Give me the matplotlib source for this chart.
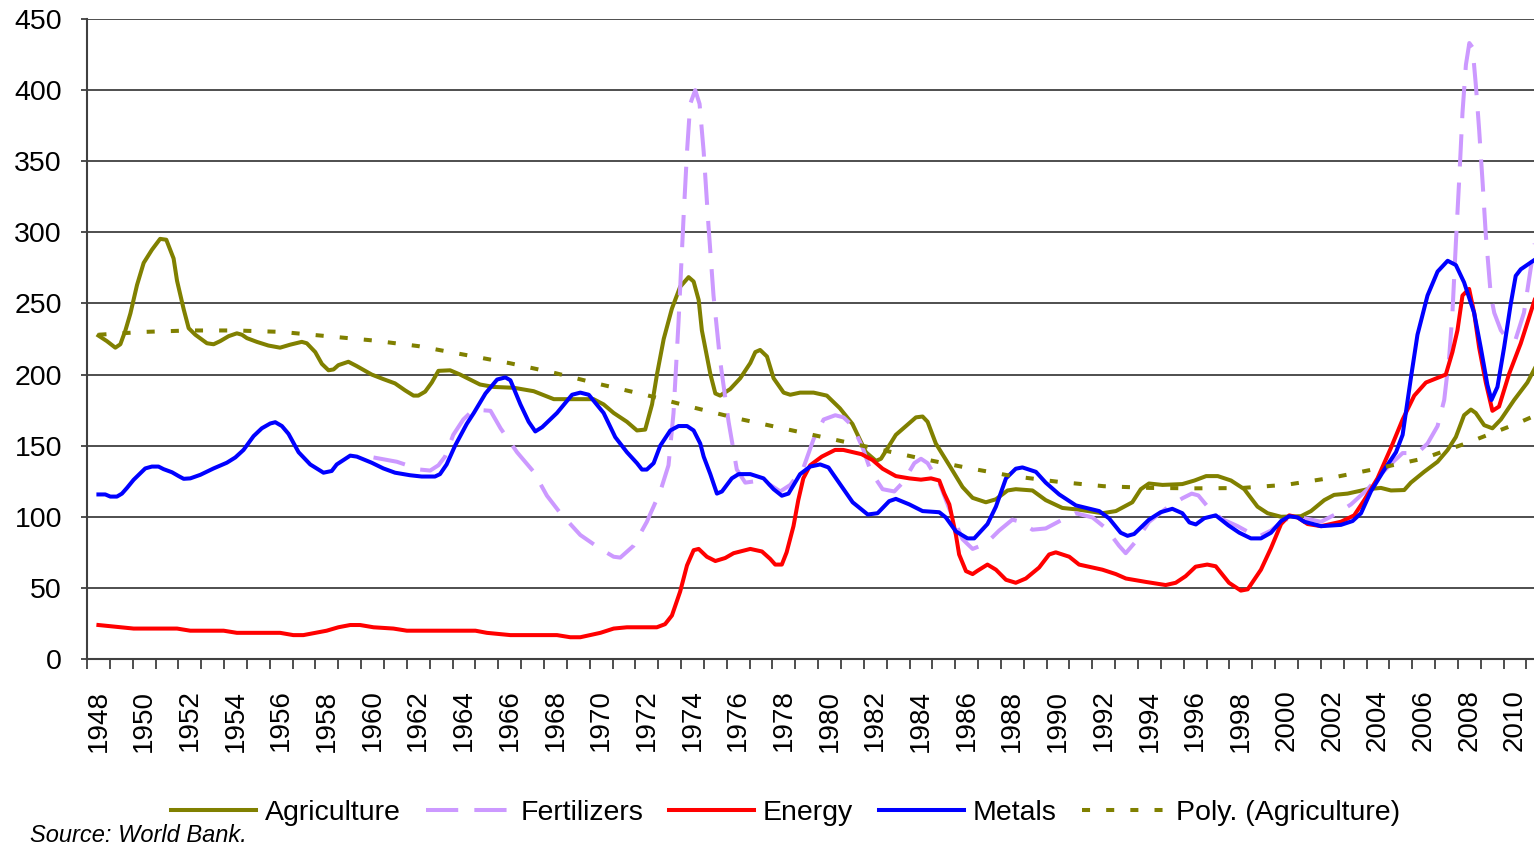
import matplotlib
matplotlib.use("Agg")
import matplotlib.pyplot as plt
from matplotlib.ticker import MultipleLocator, FixedLocator

plt.rcParams['font.family'] = ['Liberation Sans', 'DejaVu Sans']

# Agriculture index (year, value)
agri_t = [1948.0, 1948.37, 1948.74, 1948.96, 1949.18, 1949.4, 1949.69, 1949.98, 1950.34, 1950.7,
          1950.97, 1951.29, 1951.44, 1951.73, 1951.95, 1952.24, 1952.75, 1953.04, 1953.33, 1953.7,
          1954.06, 1954.28, 1954.5, 1954.93, 1955.44, 1955.95, 1956.39, 1956.9, 1957.12, 1957.49,
          1957.78, 1958.07, 1958.29, 1958.5, 1958.94, 1959.3, 1959.96, 1960.47, 1960.98, 1961.42,
          1961.79, 1962.0, 1962.3, 1962.59, 1962.88, 1963.39, 1963.83, 1964.26, 1964.7, 1965.3,
          1966.18, 1967.05, 1967.93, 1968.65, 1969.67, 1970.11, 1970.55, 1971.13, 1971.57, 1971.93,
          1972.23, 1972.45, 1972.74, 1973.1, 1973.46, 1973.83, 1974.05, 1974.27, 1974.41, 1974.63,
          1974.78, 1975.0, 1975.21, 1975.65, 1976.09, 1976.53, 1976.75, 1976.96, 1977.26, 1977.55,
          1977.99, 1978.28, 1978.71, 1979.3, 1979.88, 1980.45, 1981.0, 1981.59, 1982.03, 1982.25,
          1982.9, 1983.78, 1984.07, 1984.29, 1984.65, 1985.24, 1985.82, 1986.26, 1986.84, 1987.28,
          1987.79, 1988.15, 1988.88, 1989.46, 1990.19, 1990.92, 1991.94, 1992.53, 1993.25, 1993.62,
          1993.98, 1994.57, 1995.44, 1995.97, 1996.48, 1996.99, 1997.57, 1998.15, 1998.73, 1999.17,
          1999.76, 2000.63, 2001.07, 2001.65, 2002.08, 2002.67, 2003.55, 2004.13, 2004.57, 2005.15,
          2005.44, 2006.02, 2006.61, 2007.05, 2007.41, 2007.77, 2008.07, 2008.28, 2008.65, 2009.01,
          2009.38, 2009.96, 2010.54, 2010.86]
agri_v = [227.4, 223.5, 218.9, 221.3, 231, 243, 263, 278.5, 287.7, 295.4,
          294.8, 281.6, 266, 246, 232.6, 228, 222, 221.3, 223.5, 227,
          229, 228, 225.6, 223, 220.4, 218.9, 221, 223, 222, 215.8,
          207.5, 203, 203.6, 206.6, 209, 206, 200, 196.8, 193.8, 188.9,
          185.2, 185.2, 188, 194.4, 202.6, 203, 200, 196.5, 193, 191.3,
          190.7, 188.3, 182.7, 182.7, 182.7, 179, 173, 166.8, 160.7, 161.3,
          179, 200.5, 225, 246.4, 261.7, 268.5, 265.4, 252.5, 231.1, 212.7,
          200.5, 186.7, 185.2, 189.8, 197.4, 208.1, 215.8, 217.3, 212.7, 197.4,
          187.3, 185.8, 187.3, 187.3, 185.2, 176.3, 165.3, 145.4, 139.3, 140.8,
          157.6, 169.9, 170.5, 166.8, 151.5, 136.2, 120.9, 113.3, 110.2, 112.3,
          118.5, 119.4, 118.5, 111.7, 106.2, 105, 102.5, 104, 110.2, 119.4,
          123.4, 122.4, 123, 125.5, 128.6, 128.6, 125.5, 119.4, 107.1, 102.5,
          100, 100.4, 104, 111.7, 115.4, 116.3, 119.4, 120.3, 118.5, 118.8,
          124, 131.6, 138.7, 147, 156.1, 171.4, 175.4, 173, 164.4, 162.2,
          168.4, 182.1, 194.4, 204.2]

# Fertilizers index
fert_t = [1960.04, 1961.06, 1962.08, 1962.52, 1962.88, 1963.17, 1963.53, 1963.97, 1964.42, 1965.16,
          1965.6, 1966.32, 1967.05, 1967.63, 1968.22, 1969.09, 1969.97, 1970.55, 1970.84, 1971.42,
          1972.0, 1972.59, 1972.95, 1973.17, 1973.39, 1973.61, 1973.76, 1973.9, 1974.12, 1974.31,
          1974.49, 1974.7, 1974.92, 1975.21, 1975.58, 1975.94, 1976.31, 1976.96, 1977.4, 1977.84,
          1978.28, 1978.86, 1979.3, 1979.74, 1980.25, 1980.61, 1981.01, 1981.45, 1981.81, 1982.32,
          1982.83, 1983.2, 1983.71, 1984.0, 1984.29, 1984.8, 1985.24, 1985.82, 1986.26, 1986.84,
          1987.42, 1988.0, 1988.37, 1988.88, 1989.46, 1990.19, 1990.78, 1991.51, 1992.1, 1992.67,
          1992.96, 1993.4, 1993.98, 1994.71, 1995.44, 1995.85, 1996.14, 1996.58, 1997.16, 1997.86,
          1998.73, 1999.32, 1999.9, 2000.63, 2001.51, 2002.23, 2002.82, 2003.55, 2004.13, 2004.71,
          2005.08, 2005.73, 2006.17, 2006.61, 2006.9, 2007.12, 2007.26, 2007.41, 2007.56, 2007.7,
          2007.85, 2008.0, 2008.14, 2008.29, 2008.43, 2008.58, 2008.72, 2008.94, 2009.09, 2009.38,
          2009.74, 2010.03, 2010.39, 2010.68, 2010.86]
fert_v = [141.7, 138.7, 133.2, 132.5, 136.2, 142.3, 157.6, 168.4, 175.4, 174.5,
          162.2, 145.4, 131.6, 114.8, 102.5, 87.2, 77.4, 71.9, 71.3, 79.6,
          96.4, 117.8, 136.2, 173, 237.2, 310.7, 356.6, 390.3, 400, 390.3,
          356.6, 304.6, 255.6, 209.7, 166.8, 133.2, 124, 125.5, 122.4, 117.8,
          122.4, 134.7, 154.6, 168.4, 171.4, 169.9, 163.8, 148.5, 131.6, 119.4,
          117.8, 124, 137.7, 140.8, 137.7, 124, 105.6, 84.2, 77.4, 81.1,
          90.3, 98, 96.4, 90.9, 91.8, 98, 102.5, 99.5, 91.8, 79.6,
          74.4, 82.6, 96.4, 105.6, 113, 116.3, 115, 106.5, 98.5, 93.4,
          85.7, 90.3, 98, 99.5, 96.5, 102.5, 108.7, 119.4, 130, 139.3,
          144.8, 144.8, 151.5, 163.8, 182.1, 212.7, 243.4, 292.3, 338.2, 384.1,
          417.8, 433.1, 430, 402.5, 371.9, 335.2, 298.4, 255.6, 243.4, 231.1,
          223.5, 225, 243.4, 274, 292]

# Energy index
energy_t = [1948.0, 1949.54, 1951.44, 1952.02, 1953.48, 1954.06, 1955.95, 1956.53, 1956.97, 1957.99,
            1958.5, 1959.02, 1959.45, 1960.04, 1960.91, 1961.5, 1964.5, 1965.0, 1966.03, 1968.07,
            1968.65, 1969.09, 1969.97, 1970.55, 1971.13, 1972.44, 1972.8, 1973.1, 1973.46, 1973.76,
            1974.05, 1974.27, 1974.63, 1975.0, 1975.43, 1975.8, 1976.53, 1977.04, 1977.4, 1977.62,
            1977.91, 1978.12, 1978.42, 1978.63, 1978.85, 1979.15, 1979.66, 1980.24, 1980.6, 1981.4,
            1981.88, 1982.32, 1982.9, 1983.49, 1984.0, 1984.44, 1984.8, 1985.02, 1985.24, 1985.53,
            1985.67, 1985.97, 1986.26, 1986.48, 1986.91, 1987.28, 1987.72, 1988.15, 1988.59, 1989.17,
            1989.61, 1989.9, 1990.49, 1990.92, 1991.94, 1992.53, 1992.97, 1993.84, 1994.71, 1995.15,
            1995.58, 1996.02, 1996.53, 1996.9, 1997.48, 1998.0, 1998.3, 1998.88, 1999.32, 1999.76,
            2000.12, 2000.49, 2000.92, 2001.51, 2002.38, 2002.96, 2003.4, 2003.98, 2004.57, 2005.08,
            2005.59, 2006.1, 2006.97, 2007.26, 2007.48, 2007.7, 2007.99, 2008.21, 2008.43, 2008.72,
            2009.01, 2009.3, 2009.74, 2010.25, 2010.86]
energy_v = [23.9, 21.4, 21.4, 19.9, 19.9, 18.4, 18.4, 16.8, 16.8, 19.9,
            22.3, 23.9, 23.9, 22.3, 21.4, 19.9, 19.9, 18.4, 16.8, 16.8,
            15.3, 15.3, 18.4, 21.4, 22.3, 22.3, 24.5, 30.6, 47.4, 65.8,
            76.5, 77.4, 71.9, 68.9, 71, 74.4, 77.4, 75.6, 70.4, 66.4,
            66.4, 75, 93.4, 111.7, 127, 136.2, 142.3, 147, 147, 144,
            139.9, 133.8, 128.6, 127, 126.1, 127, 125.5, 116.3, 108.7, 87.2,
            73.5, 61.8, 59.7, 62.1, 66.4, 62.8, 55.7, 53.6, 56.6, 64.3,
            73.5, 75, 71.9, 66.4, 62.8, 59.7, 56.6, 54.2, 52, 53.6,
            58.2, 64.9, 66.4, 65.2, 53.6, 48.1, 49, 62.8, 78, 94.9,
            101, 99.5, 94.9, 93.4, 96.5, 101, 111.7, 127, 148.5, 168.4,
            185.2, 194.4, 200, 215.8, 231.1, 255.6, 260.2, 243.4, 218.9, 194.4,
            174.5, 177.5, 200.5, 221.9, 252.5]

# Metals index
metals_t = [1948.0, 1948.3, 1948.52, 1948.81, 1949.03, 1949.25, 1949.54, 1950.05, 1950.34, 1950.63,
            1950.85, 1951.22, 1951.51, 1951.73, 1952.02, 1952.46, 1953.04, 1953.62, 1953.99, 1954.35,
            1954.79, 1955.15, 1955.52, 1955.74, 1956.03, 1956.32, 1956.76, 1957.27, 1957.63, 1957.85,
            1958.21, 1958.43, 1959.02, 1959.31, 1959.96, 1960.47, 1960.98, 1961.64, 1962.15, 1962.73,
            1962.95, 1963.24, 1963.61, 1964.12, 1964.43, 1964.94, 1965.45, 1965.81, 1966.03, 1966.47,
            1966.83, 1967.12, 1967.42, 1968.07, 1968.73, 1969.09, 1969.46, 1970.11, 1970.62, 1971.13,
            1971.57, 1971.79, 1972.0, 1972.3, 1972.59, 1973.03, 1973.39, 1973.76, 1974.05, 1974.34,
            1974.49, 1974.78, 1975.07, 1975.29, 1975.72, 1976.02, 1976.53, 1977.11, 1977.55, 1977.91,
            1978.2, 1978.71, 1979.15, 1979.59, 1979.95, 1980.5, 1981.01, 1981.67, 1982.1, 1982.61,
            1982.9, 1983.49, 1984.07, 1984.8, 1985.09, 1985.53, 1986.04, 1986.33, 1986.91, 1987.28,
            1987.72, 1988.15, 1988.44, 1989.03, 1989.46, 1990.05, 1990.78, 1991.8, 1992.23, 1992.74,
            1993.04, 1993.33, 1993.98, 1994.49, 1995.0, 1995.44, 1995.75, 1996.03, 1996.4, 1996.9,
            1997.45, 1997.93, 1998.44, 1998.88, 1999.32, 1999.76, 2000.12, 2000.49, 2000.78, 2001.51,
            2002.38, 2002.89, 2003.26, 2003.69, 2004.28, 2004.79, 2005.08, 2005.44, 2005.73, 2006.17,
            2006.61, 2007.05, 2007.41, 2007.77, 2008.21, 2008.5, 2008.79, 2008.97, 2009.23, 2009.52,
            2009.81, 2010.03, 2010.25, 2010.86]
metals_v = [115.7, 115.7, 114.2, 114.2, 116.3, 120.3, 126, 134, 135.3, 135.3,
            133.5, 131.3, 128.6, 126.7, 127, 129.5, 134, 138, 141.7, 147,
            156.7, 162.2, 165.6, 166.5, 163.8, 158.3, 145.4, 136.8, 133.2, 131,
            132.2, 136.8, 143, 142.3, 138, 134, 131, 129.2, 128.3, 128.3,
            130, 136.8, 150, 165.3, 173, 186.7, 196.5, 198, 196, 179,
            166.8, 160, 163, 173, 185.8, 187.3, 185.8, 173, 156, 145.4,
            137.7, 133.2, 133.2, 137.7, 150, 160.7, 163.8, 163.8, 160.7, 151.5,
            142.3, 130, 116.3, 117.8, 127, 130, 130, 127, 119.4, 114.8,
            116.3, 130, 135.3, 136.8, 134.7, 122, 110.2, 101.6, 102.5, 111,
            112.6, 108.7, 104, 103.2, 99.5, 89.7, 84.8, 84.8, 94.9, 107.1,
            127, 133.8, 134.7, 131.6, 124, 115.7, 108, 104, 98.9, 88.8,
            86.6, 87.9, 98, 103.2, 105.6, 102.5, 96, 94.6, 99, 101,
            94, 88.8, 84.8, 84.8, 88.8, 97, 100.4, 99.5, 96.5, 93.4,
            94.3, 97, 102.5, 117.8, 133.2, 145.4, 157.6, 197.4, 228, 255.6,
            272.4, 280, 277, 264.8, 243.4, 218.9, 192.8, 182.1, 191.3, 218.9,
            249.5, 269.4, 274, 280.7]

# Polynomial trend of Agriculture
poly_t = [1948, 1950, 1952, 1954, 1956, 1958, 1960, 1962, 1964, 1966, 1968, 1970, 1972, 1974, 1976,
          1978, 1980, 1982, 1984, 1986, 1988, 1990, 1992, 1994, 1996, 1998, 2000, 2002, 2004, 2006,
          2008, 2010, 2011]
poly_v = [228, 230, 231, 231, 230, 227, 224, 220, 214, 208, 201, 193, 185.5, 177, 169,
          162, 155, 148, 141, 134.5, 128.6, 124.6, 121.5, 120.3, 120, 120.2, 122.5, 127.5, 134, 141,
          152.5, 165, 172]

year_labels = list(range(1948, 2011, 2))

fig = plt.figure(figsize=(15.34, 8.48), dpi=100)
ax = fig.add_axes([87 / 1534, 1 - 659 / 848, 1 - 87 / 1534, 640 / 848])

lw = 2.9
ax.plot(agri_t, agri_v, color='#808000', lw=lw, label='Agriculture', zorder=3)
ax.plot(fert_t, fert_v, color='#CC99FF', lw=lw, dashes=(8, 4), label='Fertilizers', zorder=3)
ax.plot(energy_t, energy_v, color='#FF0000', lw=lw, label='Energy', zorder=3)
ax.plot(metals_t, metals_v, color='#0000FF', lw=lw, label='Metals', zorder=3)
ax.plot(poly_t, poly_v, color='#808000', lw=lw, dashes=(2, 4), label='Poly. (Agriculture)', zorder=3)

ax.set_xlim(1947.5, 2010.83)
ax.set_ylim(0, 450)
ax.yaxis.set_major_locator(MultipleLocator(50))
ax.grid(axis='y', color='#404040', lw=1.3, zorder=1)
ax.set_axisbelow(True)

ax.xaxis.set_major_locator(FixedLocator(year_labels))
ax.set_xticklabels([str(y) for y in year_labels], rotation=90)
ax.xaxis.set_minor_locator(MultipleLocator(1, offset=0.5))
ax.tick_params(axis='x', which='major', length=0, pad=22, labelsize=20)
ax.tick_params(axis='x', which='minor', length=7, width=1.3, color='#404040')
ax.tick_params(axis='y', length=4, width=1.3, color='#404040', pad=14, labelsize=20.5)

for s in ['top', 'right']:
    ax.spines[s].set_visible(False)
for s in ['left', 'bottom']:
    ax.spines[s].set_color('#404040')
    ax.spines[s].set_linewidth(1.5)

fig.legend(loc='center', bbox_to_anchor=(0.512, 1 - 813 / 848), ncol=5, frameon=False,
           fontsize=20.5, handlelength=3, handletextpad=0.3, columnspacing=0.9)
fig.text(30 / 1534, 1 - 835 / 848, 'Source: World Bank.', fontsize=17, style='italic', va='center')

fig.savefig('out.png', dpi=100)
